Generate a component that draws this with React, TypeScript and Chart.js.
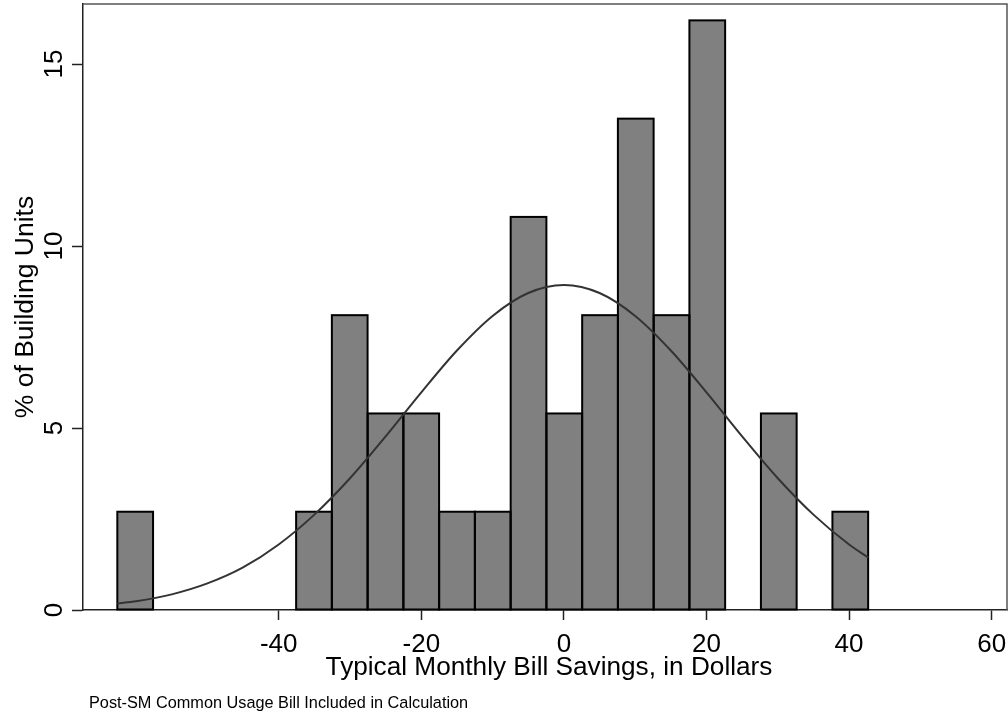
import React, { useEffect, useRef } from "react";
import { Chart, registerables } from "chart.js";

Chart.register(...registerables);

// Histogram bins (bin centers, width ~5 dollars) and heights (% of building units)
const binCenters = [-60.13, -35.05, -30.04, -25.02, -20.01, -14.99, -9.98, -4.96, 0.05, 5.07, 10.08, 15.1, 20.11, 30.14, 40.17];
const binPercents = [2.7, 2.7, 8.1, 5.4, 5.4, 2.7, 2.7, 10.8, 5.4, 8.1, 13.5, 8.1, 16.2, 5.4, 2.7];

// Normal density overlay
const curveX = [-62.64, -60, -55, -50, -45, -40, -35, -30, -25, -20, -15, -10, -5, 0, 5, 10, 15, 20, 25, 30, 35, 40, 42.7];
const curveY = [0.18, 0.24, 0.43, 0.73, 1.17, 1.8, 2.62, 3.62, 4.77, 5.98, 7.13, 8.08, 8.71, 8.93, 8.71, 8.08, 7.13, 5.98, 4.77, 3.62, 2.62, 1.8, 1.44];

const xTicks = [-40, -20, 0, 20, 40, 60];
const yTicks = [0, 5, 10, 15];

const xTitle = "Typical Monthly Bill Savings, in Dollars";
const yTitle = "% of Building Units";
const noteText = "Post-SM Common Usage Bill Included in Calculation";

const FONT = '"Liberation Sans", Arial, Helvetica, sans-serif';

export default function App() {
  const ref = useRef<HTMLCanvasElement | null>(null);

  useEffect(() => {
    const canvas = ref.current;
    if (!canvas) return;

    const decor = {
      id: "decor",
      afterDatasetDraw(chart: any, args: any) {
        if (args.meta.type !== "bar") return;
        const ctx = chart.ctx;
        ctx.save();
        ctx.strokeStyle = "#000";
        ctx.lineWidth = 2;
        args.meta.data.forEach((el: any) => {
          const p = el.getProps(["x", "y", "base", "width"], true);
          ctx.strokeRect(p.x - p.width / 2, p.y, p.width, p.base - p.y);
        });
        ctx.restore();
      },
      afterDraw(chart: any) {
        const ctx = chart.ctx;
        const area = chart.chartArea;
        const xs = chart.scales.x;
        const ys = chart.scales.y;
        ctx.save();
        // plot region outline (top, right)
        ctx.strokeStyle = "#555";
        ctx.lineWidth = 1.5;
        ctx.beginPath();
        ctx.moveTo(area.left, area.top);
        ctx.lineTo(area.right, area.top);
        ctx.lineTo(area.right, area.bottom);
        ctx.stroke();

        ctx.fillStyle = "#000";
        ctx.font = `26px ${FONT}`;
        ctx.textAlign = "center";
        ctx.textBaseline = "alphabetic";
        // x tick labels
        xTicks.forEach((v) => {
          ctx.fillText(String(v), xs.getPixelForValue(v), 651.5);
        });
        // y tick labels (rotated)
        yTicks.forEach((v) => {
          const py = ys.getPixelForValue(v);
          ctx.save();
          ctx.translate(62, py);
          ctx.rotate(-Math.PI / 2);
          ctx.fillText(String(v), 0, 0);
          ctx.restore();
        });
        // y title
        ctx.font = `26.5px ${FONT}`;
        ctx.save();
        ctx.translate(33, (area.top + area.bottom) / 2);
        ctx.rotate(-Math.PI / 2);
        ctx.fillText(yTitle, 0, 0);
        ctx.restore();
        // x title
        ctx.font = `26.2px ${FONT}`;
        ctx.fillText(xTitle, 549, 675);
        // note
        ctx.font = `16.3px ${FONT}`;
        ctx.textAlign = "left";
        ctx.fillText(noteText, 89, 708);
        ctx.restore();
      },
    };

    const chart = new Chart(canvas, {
      type: "bar",
      data: {
        datasets: [
          {
            type: "line",
            data: curveX.map((x, i) => ({ x, y: curveY[i] })),
            borderColor: "#333",
            borderWidth: 2,
            pointRadius: 0,
            cubicInterpolationMode: "monotone",
            fill: false,
            order: 0,
          } as any,
          {
            type: "bar",
            data: binCenters.map((x, i) => ({ x, y: binPercents[i] })),
            backgroundColor: "#808080",
            borderWidth: 0,
            barPercentage: 1,
            categoryPercentage: 1,
            order: 1,
          } as any,
        ],
      },
      options: {
        responsive: false,
        animation: false,
        events: [],
        layout: { padding: { left: 0, top: 4, right: 1, bottom: 0 } },
        plugins: { legend: { display: false }, tooltip: { enabled: false }, title: { display: false } },
        scales: {
          x: {
            type: "linear",
            min: -67.45,
            max: 62.15,
            offset: false,
            afterBuildTicks: (s: any) => {
              s.ticks = xTicks.map((v) => ({ value: v }));
            },
            afterFit: (s: any) => {
              s.height = 105;
              s.paddingLeft = 0;
              s.paddingRight = 0;
            },
            grid: {
              display: true,
              drawOnChartArea: false,
              drawTicks: true,
              tickLength: 10,
              tickColor: "#222",
              tickWidth: 1.5,
              offset: false,
            },
            border: { display: true, color: "#222", width: 1.5 },
            ticks: { display: false },
          },
          y: {
            type: "linear",
            min: 0,
            max: 16.65,
            afterBuildTicks: (s: any) => {
              s.ticks = yTicks.map((v) => ({ value: v }));
            },
            afterFit: (s: any) => {
              s.width = 83;
            },
            grid: {
              display: true,
              drawOnChartArea: false,
              drawTicks: true,
              tickLength: 11,
              tickColor: "#222",
              tickWidth: 1.5,
            },
            border: { display: true, color: "#222", width: 1.5 },
            ticks: { display: false },
          },
        },
      } as any,
      plugins: [decor],
    });

    return () => chart.destroy();
  }, []);

  return (
    <div style={{ position: "absolute", left: 0, top: 0, width: 1008, height: 715, background: "#fff" }}>
      <canvas ref={ref} width={1008} height={715} style={{ display: "block", width: 1008, height: 715 }} />
    </div>
  );
}
